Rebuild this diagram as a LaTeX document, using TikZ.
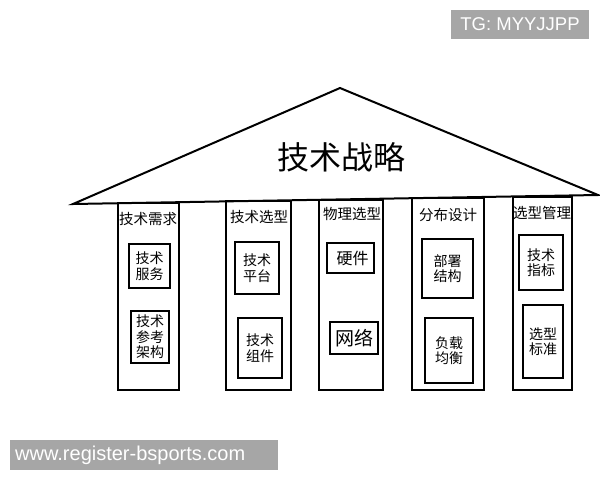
\documentclass[tikz,border=0pt]{standalone}
\usepackage{fontspec}
\setmainfont{Liberation Sans}
\newfontfamily\cjk{Noto Sans CJK SC}
\definecolor{wmgray}{HTML}{A6A6A6}
\begin{document}
\begin{tikzpicture}[x=1pt,y=-1pt,
  roofline/.style={line width=2pt, line join=miter},
  pillar/.style={draw, line width=2.3pt, inner sep=0pt},
  inbox/.style={draw, line width=2.3pt, inner sep=0pt, align=center,
    font=\cjk\fontsize{14}{15.5}\selectfont},
  ptitle/.style={inner sep=0pt, font=\cjk\fontsize{14.5}{16}\selectfont},
  wm/.style={fill=wmgray, text=white, inner sep=0pt, font=\fontsize{18.5}{20}\selectfont}]
\useasboundingbox (0,0) rectangle (600,480);
\fill[white] (0,0) rectangle (600,480);
% roof
\coordinate (rl) at (73,204);
\coordinate (ra) at (340,88);
\coordinate (rr) at (598,195);
\draw[roofline] (rl) -- (ra) -- (rr) -- cycle;
\node[inner sep=0pt, font=\cjk\fontsize{32}{34}\selectfont] (title) at (341,157) {技术战略};
% pillars
\node[pillar, minimum width=61, minimum height=187] (p1) at (148.5,296.5) {};
\node[pillar, minimum width=65, minimum height=189] (p2) at (258.5,295.5) {};
\node[pillar, minimum width=64, minimum height=190] (p3) at (351,295) {};
\node[pillar, minimum width=72, minimum height=192] (p4) at (448,294) {};
\node[pillar, minimum width=59, minimum height=193] (p5) at (542.5,293.5) {};
% pillar titles
\node[ptitle] (t1) at (148,219) {技术需求};
\node[ptitle] (t2) at (259,217) {技术选型};
\node[ptitle] (t3) at (352,214) {物理选型};
\node[ptitle] (t4) at (448,215) {分布设计};
\node[ptitle] (t5) at (542,213) {选型管理};
% inner boxes
\node[inbox, minimum width=41, minimum height=44] (b11) at (149.5,266) {技术\\服务};
\node[inbox, minimum width=38, minimum height=52] (b12) at (150,337) {技术\\参考\\架构};
\node[inbox, minimum width=44, minimum height=52] (b21) at (257,268) {技术\\平台};
\node[inbox, minimum width=44, minimum height=60] (b22) at (260,348) {技术\\组件};
\node[inbox, minimum width=47, minimum height=30, font=\cjk\fontsize{16}{18}\selectfont] (b31) at (350.5,258) {\hspace{4pt}硬件};
\node[inbox, minimum width=48, minimum height=32, font=\cjk\fontsize{19}{21}\selectfont] (b32) at (354,338) {网络};
\node[inbox, minimum width=51, minimum height=59] (b41) at (447.5,268.5) {部署\\结构};
\node[inbox, minimum width=48, minimum height=65] (b42) at (449,350.5) {负载\\均衡};
\node[inbox, minimum width=44, minimum height=55] (b51) at (541,262.5) {技术\\指标};
\node[inbox, minimum width=40, minimum height=73] (b52) at (543,341.5) {选型\\标准};
% watermarks
\node[wm, minimum width=138, minimum height=29] (tg) at (520,24.5) {TG: MYYJJPP};
\node[wm, minimum width=268, minimum height=30, anchor=west] (url) at (10,455) {};
\node[inner sep=0pt, text=white, anchor=west, font=\fontsize{20}{22}\selectfont] (urlt) at (15,455) {www.register-bsports.com};
\end{tikzpicture}
\end{document}
